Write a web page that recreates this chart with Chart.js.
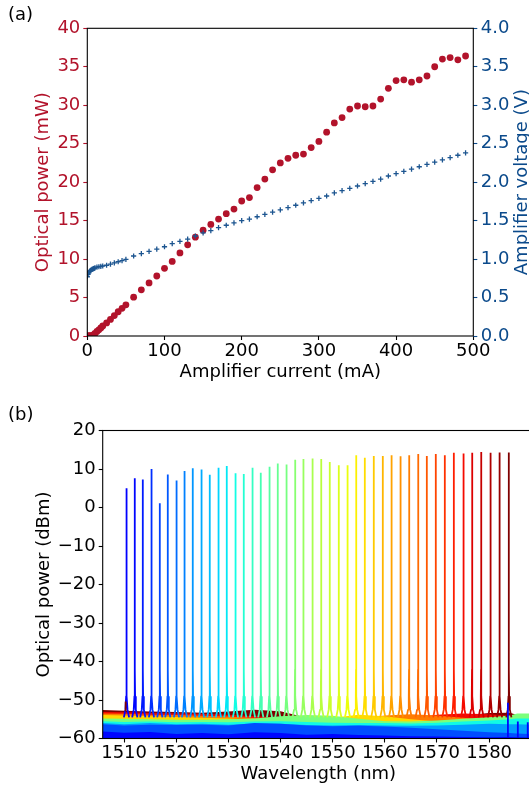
<!DOCTYPE html>
<html>
<head>
<meta charset="utf-8">
<script src="https://cdn.jsdelivr.net/npm/chart.js@4.4.1/dist/chart.umd.min.js"></script>
<style>
  html, body { margin: 0; padding: 0; background: #fff; overflow: hidden; }
  body { width: 529px; height: 787px; position: relative; font-family: "DejaVu Sans", sans-serif; }
  canvas { position: absolute; left: 0; }
  #powerChart { top: 0; }
  #spectraChart { top: 395px; }
  .panel-label { position: absolute; left: 8px; font-size: 18px; color: #000; }
</style>
</head>
<body>
<canvas id="powerChart" width="529" height="395"></canvas>
<canvas id="spectraChart" width="534" height="392"></canvas>
<div class="panel-label" style="top:3px">(a)</div>
<div class="panel-label" style="top:403px">(b)</div>
<script>
/* -------- data: (a) amplifier sweep -------- */
const currentMA = [
    0, 1, 2, 3, 4, 5, 6, 7, 8, 9, 10, 12.5, 15, 17.5, 20, 25, 30, 35, 40, 45, 50,
    60, 70, 80, 90, 100, 110, 120, 130, 140, 150, 160, 170, 180, 190, 200,
    210, 220, 230, 240, 250, 260, 270, 280, 290, 300, 310, 320, 330, 340, 350,
    360, 370, 380, 390, 400, 410, 420, 430, 440, 450, 460, 470, 480, 490,
];
const powerMW = [
    0, 0, 0, 0, 0, 0, 0.02, 0.05, 0.1, 0.2, 0.35, 0.6, 0.8, 1.05, 1.3, 1.7, 2.15, 2.65, 3.15, 3.6, 4.05,
    5.05, 6.0, 6.9, 7.8, 8.8, 9.7, 10.8, 11.85, 12.85, 13.75, 14.5, 15.2, 15.9, 16.5, 17.55,
    18.0, 19.3, 20.4, 21.6, 22.5, 23.1, 23.5, 23.65, 24.5, 25.3, 26.5, 27.7, 28.4, 29.5, 29.9,
    29.8, 29.9, 30.8, 32.2, 33.2, 33.3, 33.0, 33.3, 33.8, 35.0, 36.0, 36.2, 35.9, 36.4,
];
const voltageV = [
    0.77, 0.8, 0.82, 0.84, 0.85, 0.86, 0.865, 0.87, 0.875, 0.88, 0.885, 0.895, 0.9, 0.905, 0.91,
    0.92, 0.935, 0.95, 0.965, 0.98, 0.995,
    1.04, 1.07, 1.1, 1.13, 1.16, 1.2, 1.23, 1.26, 1.3, 1.34, 1.37, 1.41, 1.44, 1.47, 1.5,
    1.52, 1.55, 1.58, 1.61, 1.64, 1.67, 1.7, 1.73, 1.76, 1.79, 1.82, 1.86, 1.89, 1.92, 1.95,
    1.98, 2.01, 2.04, 2.08, 2.11, 2.14, 2.17, 2.2, 2.23, 2.26, 2.29, 2.32, 2.35, 2.38,
];

/* -------- data: (b) spectra -------- */
const peakWavelengthNm = [
    1510.46, 1512.05, 1513.59, 1515.25, 1516.85, 1518.38, 1520.05, 1521.58, 1523.17, 1524.84,
    1526.43, 1528.1, 1529.69, 1531.36, 1532.95, 1534.62, 1536.21, 1537.88, 1539.47, 1541.14,
    1542.79, 1544.38, 1546.13, 1547.78, 1549.44, 1551.17, 1552.84, 1554.49, 1556.16, 1557.88,
    1559.61, 1561.28, 1563.0, 1564.65, 1566.38, 1568.05, 1569.77, 1571.5, 1573.23, 1575.08,
    1576.73, 1578.46, 1580.26, 1581.99, 1583.77,
];
const peakPowerDbm = [
    5.0, 7.6, 7.3, 10.0, 1.1, 8.6, 7.0, 9.5, 10.2, 9.9,
    8.5, 10.3, 10.8, 8.9, 8.7, 10.3, 9.0, 10.6, 11.4, 11.2,
    12.4, 12.6, 12.7, 12.6, 11.8, 11.0, 11.0, 13.6, 12.9, 13.4,
    13.4, 13.6, 13.3, 13.6, 13.9, 13.4, 13.9, 13.6, 14.2, 14.0,
    14.2, 14.4, 14.2, 14.3, 14.3,
];
// line shape around each peak (offset from peak, level); null = the peak itself
const skirtOffsetNm = [-0.5, -0.2, -0.06, -0.015, 0, 0.015, 0.06, 0.2, 0.5];
const skirtLevelDbm = [-54.5, -52.5, -49, -42, null, -42, -49, -52.5, -54.5];

// noise floor: top edge of each coloured layer on a common wavelength grid
const floorGridNm = [1505.9, 1510, 1515, 1520, 1525, 1530, 1535, 1540, 1545, 1550,
    1555, 1560, 1565, 1570, 1575, 1580, 1584, 1585.2, 1585.4, 1588.6];
const floorDarkRed = [-52.6, -52.8, -53.0, -53.1, -53.3, -53.0, -52.5, -52.9, -54.6, -55.6,
    -56.0, -56.0, -55.5, -54.8, -54.0, -53.4, -53.3, -53.8, -61, -61];
const floorRed = [-53.1, -53.2, -53.4, -53.5, -53.6, -53.8, -54.2, -54.6, -55.0, -55.4,
    -55.6, -55.2, -54.6, -53.8, -53.5, -53.7, -54.1, -54.4, -61, -61];
const floorOrange = [-53.5, -53.6, -53.8, -53.9, -54.1, -54.3, -54.7, -55.0, -55.3, -55.4,
    -54.8, -54.0, -53.7, -54.0, -54.6, -55.2, -55.6, -55.8, -61, -61];
const floorYellow = [-53.9, -54.0, -54.2, -54.4, -54.6, -54.8, -55.1, -55.3, -55.2, -54.6,
    -53.8, -54.2, -55.0, -55.6, -56.2, -56.6, -56.8, -57.0, -61, -61];
const floorGreen = [-54.8, -54.9, -55.0, -55.1, -55.1, -55.0, -54.8, -54.2, -53.9, -54.1,
    -54.9, -55.5, -55.6, -55.3, -54.9, -54.5, -54.0, -53.6, -53.5, -53.5];
const floorCyan = [-55.5, -55.7, -55.6, -55.8, -55.7, -55.8, -55.6, -55.5, -55.7, -55.9,
    -56.0, -56.0, -56.1, -55.9, -55.6, -55.3, -55.0, -54.8, -54.8, -54.8];
const floorLightBlue = [-56.0, -56.3, -56.0, -56.3, -56.2, -56.4, -56.1, -56.2, -56.5, -56.6,
    -56.5, -56.6, -56.7, -56.6, -56.4, -56.2, -56.3, -56.3, -56.3, -56.4];
const floorBlue = [-56.3, -56.6, -56.4, -56.5, -56.4, -56.6, -56.0, -56.2, -56.6, -56.8,
    -56.7, -56.9, -57.2, -57.6, -58.0, -58.4, -58.6, -58.7, -58.7, -58.9];
const floorDarkBlue = [-58.2, -58.5, -58.3, -58.8, -58.6, -58.9, -58.4, -58.6, -59.0, -58.8,
    -59.1, -59.2, -59.4, -59.5, -59.6, -59.7, -59.6, -59.7, -59.7, -59.8];

// stray spikes in the floor
const spikeWavelengthNm = [1510.3, 1583.6, 1585.5, 1587.4];
const spikeBaseDbm = [-53.0, -60, -60, -60];
const spikeTopDbm = [-50.4, -50.7, -55.6, -55.8];

/* -------- style -------- */
const FONT = '"DejaVu Sans", sans-serif';
const RED = '#b2132b';
const BLUE = '#0b4a8b';
const tickFont = { family: FONT, size: 18, lineHeight: 1 };
const titleFont = { family: FONT, size: 18, lineHeight: 1.2 };
const minus = (v) => String(v).replace('-', '\u2212');

// matplotlib jet
const JET = {
    r: [[0, 0], [0.35, 0], [0.66, 1], [0.89, 1], [1, 0.5]],
    g: [[0, 0], [0.125, 0], [0.375, 1], [0.64, 1], [0.91, 0], [1, 0]],
    b: [[0, 0.5], [0.11, 1], [0.34, 1], [0.65, 0], [1, 0]],
};
function jetChannel(pts, t) {
    for (let i = 1; i < pts.length; i++) {
        if (t <= pts[i][0]) {
            const [x0, y0] = pts[i - 1];
            const [x1, y1] = pts[i];
            return y0 + ((y1 - y0) * (t - x0)) / (x1 - x0);
        }
    }
    return pts[pts.length - 1][1];
}
function jet(t) {
    const c = ['r', 'g', 'b'].map((k) => Math.round(255 * jetChannel(JET[k], t)));
    return `rgb(${c[0]},${c[1]},${c[2]})`;
}

const framePlugin = {
    id: 'frame',
    afterDatasetsDraw(chart) {
        const { ctx, chartArea: a } = chart;
        ctx.save();
        ctx.strokeStyle = '#000';
        ctx.lineWidth = 1.1;
        ctx.strokeRect(a.left, a.top, a.right - a.left, a.bottom - a.top);
        ctx.restore();
    },
};

// matplotlib writes the right label bottom-to-top, chart.js would flip it
const rightTitlePlugin = {
    id: 'rightTitle',
    afterDraw(chart) {
        const { ctx, chartArea: a } = chart;
        ctx.save();
        ctx.translate(522, (a.top + a.bottom) / 2);
        ctx.rotate(-Math.PI / 2);
        ctx.font = '18px ' + FONT;
        ctx.fillStyle = BLUE;
        ctx.textAlign = 'center';
        ctx.textBaseline = 'middle';
        ctx.fillText('Amplifier voltage (V)', 0, 0);
        ctx.restore();
    },
};

function axisGrid(color) {
    return { display: true, drawOnChartArea: false, drawTicks: true, tickLength: 4, tickWidth: 1.1, tickColor: color };
}

/* -------- (a) -------- */
new Chart(document.getElementById('powerChart'), {
    type: 'scatter',
    data: {
        datasets: [
            {
                label: 'Amplifier voltage',
                yAxisID: 'y1',
                data: currentMA.map((x, i) => ({ x, y: voltageV[i] })),
                pointStyle: 'cross',
                pointRadius: 2.6,
                borderColor: '#1c5590',
                borderWidth: 1.3,
                order: 0,
            },
            {
                label: 'Optical power',
                yAxisID: 'y',
                data: currentMA.map((x, i) => ({ x, y: powerMW[i] })),
                pointRadius: 3.4,
                backgroundColor: RED,
                borderWidth: 0,
                order: 1,
            },
        ],
    },
    options: {
        responsive: false,
        animation: false,
        devicePixelRatio: 1,
        layout: { padding: { top: 28.3, left: 0, right: 0, bottom: 0 } },
        plugins: { legend: { display: false }, tooltip: { enabled: false } },
        scales: {
            x: {
                type: 'linear',
                min: 0,
                max: 500,
                ticks: { stepSize: 100, color: '#000', font: tickFont, padding: 2, maxRotation: 0 },
                grid: axisGrid('#000'),
                border: { display: false },
                title: { display: true, text: 'Amplifier current (mA)', color: '#000', font: titleFont, padding: { bottom: 12.2 } },
                afterFit: (s) => { s.height = 59; },
            },
            y: {
                position: 'left',
                min: 0,
                max: 40,
                ticks: { stepSize: 5, color: RED, font: tickFont, padding: 3 },
                grid: axisGrid(RED),
                border: { display: false },
                title: { display: true, text: 'Optical power (mW)', color: RED, font: titleFont, padding: { top: 32.2 } },
                afterFit: (s) => { s.width = 87.3; },
            },
            y1: {
                position: 'right',
                min: 0,
                max: 4,
                ticks: { stepSize: 0.5, color: BLUE, font: tickFont, padding: 3.5, callback: (v) => v.toFixed(1) },
                grid: axisGrid(BLUE),
                border: { display: false },
                afterFit: (s) => { s.width = 55.7; },
            },
        },
    },
    plugins: [framePlugin, rightTitlePlugin],
});

/* -------- (b) -------- */
const floorLayers = [
    [floorDarkRed, 1.0],
    [floorRed, 0.9],
    [floorOrange, 0.78],
    [floorYellow, 0.68],
    [floorGreen, 0.5],
    [floorCyan, 0.37],
    [floorLightBlue, 0.28],
    [floorBlue, 0.2],
    [floorDarkBlue, 0.13],
];
const spikeColorT = [1.0, 0.13, 0.13, 0.13];

const spectraDatasets = [];
floorLayers.forEach(([top, t], k) => {
    spectraDatasets.push({
        data: floorGridNm.map((x, i) => ({ x, y: top[i] })),
        borderWidth: 0,
        borderColor: jet(t),
        backgroundColor: jet(t),
        fill: 'start',
        pointRadius: 0,
        order: 200 - k,
    });
});
peakWavelengthNm.forEach((wl, i) => {
    const color = jet(0.11 + (0.89 * i) / (peakWavelengthNm.length - 1));
    spectraDatasets.push({
        data: skirtOffsetNm.map((d, j) => ({ x: wl + d, y: skirtLevelDbm[j] ?? peakPowerDbm[i] })),
        borderColor: color,
        borderWidth: 1.8,
        borderJoinStyle: 'bevel',
        pointRadius: 0,
        fill: false,
        order: 100 - i,
    });
});
spikeWavelengthNm.forEach((wl, i) => {
    spectraDatasets.push({
        data: [{ x: wl, y: spikeBaseDbm[i] }, { x: wl, y: spikeTopDbm[i] }],
        borderColor: jet(spikeColorT[i]),
        borderWidth: 1.8,
        pointRadius: 0,
        fill: false,
        order: 10,
    });
});

new Chart(document.getElementById('spectraChart'), {
    type: 'line',
    data: { datasets: spectraDatasets },
    options: {
        responsive: false,
        animation: false,
        devicePixelRatio: 1,
        layout: { padding: { top: 35.5, left: 0, right: 0, bottom: 0 } },
        plugins: { legend: { display: false }, tooltip: { enabled: false } },
        scales: {
            x: {
                type: 'linear',
                min: 1505.9,
                max: 1588.6,
                ticks: { stepSize: 10, includeBounds: false, color: '#000', font: tickFont, padding: 2, maxRotation: 0, autoSkip: false, callback: (v) => String(v) },
                grid: axisGrid('#000'),
                border: { display: false },
                title: { display: true, text: 'Wavelength (nm)', color: '#000', font: titleFont, padding: { bottom: 2.2 } },
                afterFit: (s) => { s.height = 48.5; },
            },
            y: {
                min: -60,
                max: 20,
                ticks: { stepSize: 10, color: '#000', font: tickFont, padding: 3, callback: minus },
                grid: axisGrid('#000'),
                border: { display: false },
                title: { display: true, text: 'Optical power (dBm)', color: '#000', font: titleFont, padding: { top: 33.2 } },
                afterFit: (s) => { s.width = 102.7; },
            },
        },
    },
    plugins: [framePlugin],
});
</script>
</body>
</html>
